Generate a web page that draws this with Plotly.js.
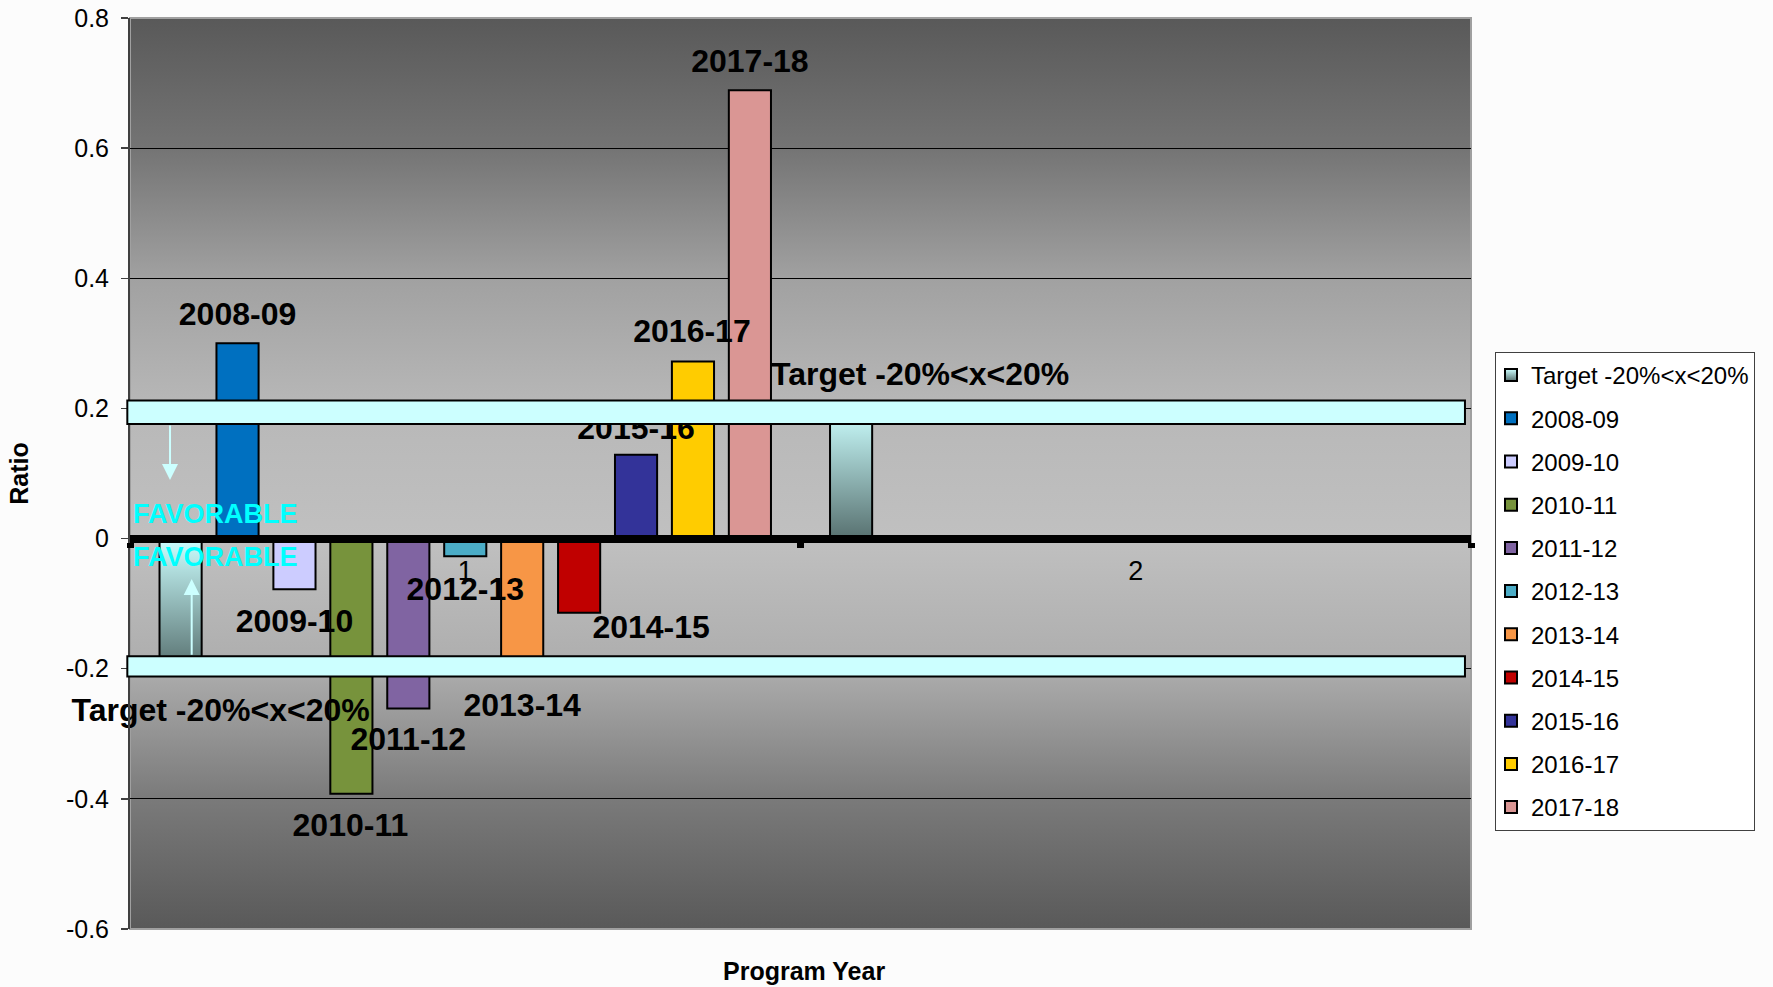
<!DOCTYPE html>
<html>
<head>
<meta charset="utf-8">
<script src="https://cdn.plot.ly/plotly-3.0.1.min.js"></script>
<style>
  html, body { margin: 0; padding: 0; background: #fcfcfc; }
  #chart { width: 1773px; height: 987px; }
</style>
</head>
<body>
<svg width="0" height="0" style="position:absolute">
  <defs>
    <linearGradient id="targetGrad" x1="0" y1="0" x2="0" y2="1">
      <stop offset="0" stop-color="#ccffff"/>
      <stop offset="1" stop-color="#587170"/>
    </linearGradient>
  </defs>
</svg>
<div id="chart"></div>
<script>
// ---------------- data ----------------
const categories = ['1', '2'];
const seriesNames = ['Target -20%<x<20%', '2008-09', '2009-10', '2010-11', '2011-12',
  '2012-13', '2013-14', '2014-15', '2015-16', '2016-17', '2017-18'];
const target   = [-0.20, 0.20];
const py200809 = [0.300, null];
const py200910 = [-0.078, null];
const py201011 = [-0.392, null];
const py201112 = [-0.261, null];
const py201213 = [-0.027, null];
const py201314 = [-0.190, null];
const py201415 = [-0.114, null];
const py201516 = [0.129, null];
const py201617 = [0.272, null];
const py201718 = [0.689, null];
const seriesValues = [target, py200809, py200910, py201011, py201112, py201213,
  py201314, py201415, py201516, py201617, py201718];
const targetBands = [[0.176, 0.212], [-0.212, -0.181]];
const yTicks = [-0.6, -0.4, -0.2, 0, 0.2, 0.4, 0.6, 0.8];
const yTickLabels = ['-0.6', '-0.4', '-0.2', '0', '0.2', '0.4', '0.6', '0.8'];

// ---------------- style ----------------
const seriesColors = ['#9cc4c3', '#0070c0', '#ccccff', '#77933c', '#8064a2', '#4bacc6',
  '#f79646', '#c00000', '#333399', '#ffcc00', '#da9694'];
// label offsets in pixels: [series, category, dx, dy(up)]
const labelOffsets = [
  [0, 0, 40, -44], [1, 0, 0, 26], [2, 0, 0, -35], [3, 0, -1, -34], [4, 0, 0, -34],
  [5, 0, 0, -36], [6, 0, 0, -46], [7, 0, 72, -17], [8, 0, 0, 24], [9, 0, -1, 28],
  [10, 0, 0, 26], [0, 1, 69, 31]
];

const W = 1773, H = 987;
const M = { l: 130, r: 302, t: 18, b: 58 };
const yMin = -0.6, yMax = 0.8;
const bargap = 0.066, bargroupgap = 0.26;
const plotW = W - M.l - M.r, plotH = H - M.t - M.b;
const pxPerX = plotW / 2, pxPerY = plotH / (yMax - yMin);
const nSeries = seriesNames.length;
const slot = (1 - bargap) / nSeries;
const barCenter = (i, c) => c - (1 - bargap) / 2 + (i + 0.5) * slot;

const FONT = 'Liberation Sans, Arial, Helvetica, sans-serif';

const data = seriesNames.map((name, i) => ({
  type: 'bar',
  name: name,
  x: categories,
  y: seriesValues[i],
  marker: { color: seriesColors[i], line: { color: '#000', width: 2 } },
  legendgroup: 'g' + i,
  hoverinfo: 'skip'
}));

// series-name labels (drawn in a trace layer so the target bands sit over them)
const lx = [], ly = [], lt = [];
labelOffsets.forEach(([s, c, dx, dy]) => {
  lx.push(barCenter(s, c) + dx / pxPerX);
  ly.push(seriesValues[s][c] + dy / pxPerY);
  lt.push(seriesNames[s]);
});
data.push({
  type: 'scatter', mode: 'text', xaxis: 'x2', yaxis: 'y',
  x: lx, y: ly, text: lt, textposition: 'middle center',
  textfont: { family: FONT, size: 32, color: '#000', weight: 'bold' },
  cliponaxis: false, showlegend: false, hoverinfo: 'skip'
});

const bgSvg = '<svg xmlns="http://www.w3.org/2000/svg" width="100" height="100" viewBox="0 0 100 100" preserveAspectRatio="none">' +
  '<defs><linearGradient id="g" x1="0" y1="0" x2="0" y2="1">' +
  '<stop offset="0" stop-color="#595959"/>' +
  '<stop offset="0.143" stop-color="#747474"/>' +
  '<stop offset="0.286" stop-color="#a1a1a1"/>' +
  '<stop offset="0.429" stop-color="#b8b8b8"/>' +
  '<stop offset="0.571" stop-color="#c0c0c0"/>' +
  '<stop offset="0.714" stop-color="#adadad"/>' +
  '<stop offset="0.857" stop-color="#7a7a7a"/>' +
  '<stop offset="1" stop-color="#595959"/>' +
  '</linearGradient></defs><rect width="100" height="100" fill="url(#g)"/></svg>';

const shapes = [
  { type: 'rect', xref: 'paper', yref: 'paper', x0: 0, x1: 1, y0: 0, y1: 1,
    line: { color: '#a0a0a0', width: 2 }, layer: 'below' }
];
targetBands.forEach(b => shapes.push({
  type: 'rect', xref: 'paper', yref: 'y', x0: -0.002, x1: 0.9955, y0: b[0], y1: b[1],
  fillcolor: '#ccffff', line: { color: '#000', width: 2 }, layer: 'above'
}));

const annotations = [
  { text: 'FAVORABLE', xref: 'paper', yref: 'y', x: 0.0635, y: 0.038, showarrow: false,
    font: { family: FONT, size: 27, color: '#00ffff', weight: 'bold' }, xanchor: 'center', yanchor: 'middle' },
  { text: 'FAVORABLE', xref: 'paper', yref: 'y', x: 0.0635, y: -0.029, showarrow: false,
    font: { family: FONT, size: 27, color: '#00ffff', weight: 'bold' }, xanchor: 'center', yanchor: 'middle' },
  { text: '', xref: 'x2', yref: 'y', axref: 'x2', ayref: 'y', x: -0.4403, y: 0.09, ax: -0.4403, ay: 0.176,
    showarrow: true, arrowhead: 2, arrowsize: 1.6, arrowwidth: 2, arrowcolor: '#ccffff' },
  { text: '', xref: 'x2', yref: 'y', axref: 'x2', ayref: 'y', x: -0.408, y: -0.062, ax: -0.408, ay: -0.181,
    showarrow: true, arrowhead: 2, arrowsize: 1.6, arrowwidth: 2, arrowcolor: '#ccffff' },
  { text: 'Program Year', xref: 'paper', yref: 'paper', x: 0.5026, y: -0.046, showarrow: false,
    font: { family: FONT, size: 25, color: '#000', weight: 'bold' }, xanchor: 'center', yanchor: 'middle' }
];

const layout = {
  width: W, height: H,
  margin: { l: M.l, r: M.r, t: M.t, b: M.b, autoexpand: false },
  paper_bgcolor: '#fcfcfc',
  plot_bgcolor: 'rgba(0,0,0,0)',
  font: { family: FONT, color: '#000' },
  barmode: 'group', bargap: bargap, bargroupgap: bargroupgap,
  showlegend: true,
  xaxis: {
    type: 'category', range: [-0.5, 1.5], anchor: 'free',
    position: (0 - yMin) / (yMax - yMin),
    showline: true, linecolor: '#000', linewidth: 8,
    ticks: 'outside', tickson: 'boundaries', ticklen: 5, tickwidth: 7, tickcolor: '#000',
    tickfont: { family: FONT, size: 27, color: '#000' }, ticklabelstandoff: 5,
    showgrid: false, zeroline: false, automargin: false, fixedrange: true
  },
  xaxis2: { overlaying: 'x', range: [-0.5, 1.5], visible: false, anchor: 'y', fixedrange: true },
  yaxis: {
    range: [yMin, yMax], tickmode: 'array', tickvals: yTicks, ticktext: yTickLabels,
    ticks: 'outside', ticklen: 7, tickwidth: 1.5, tickcolor: '#404040',
    showline: true, linecolor: '#404040', linewidth: 2,
    showgrid: true, gridcolor: '#000', gridwidth: 1, zeroline: false,
    tickfont: { family: FONT, size: 25, color: '#000' }, ticklabelstandoff: 7,
    title: { text: 'Ratio', font: { family: FONT, size: 25, color: '#000', weight: 'bold' }, standoff: 30 },
    automargin: false, fixedrange: true
  },
  legend: {
    xref: 'container', yref: 'container', x: 1495 / W, y: 1 - 352 / H,
    xanchor: 'left', yanchor: 'top',
    bgcolor: '#ffffff', bordercolor: '#404040', borderwidth: 1,
    font: { family: FONT, size: 24, color: '#000' },
    traceorder: 'grouped', tracegroupgap: 9, itemwidth: 30, indentation: -5
  },
  shapes: shapes,
  annotations: annotations,
  images: [{
    source: 'data:image/svg+xml;charset=utf-8,' + encodeURIComponent(bgSvg),
    xref: 'paper', yref: 'paper', x: 0, y: 1, sizex: 1, sizey: 1,
    sizing: 'stretch', xanchor: 'left', yanchor: 'top', layer: 'below'
  }]
};

Plotly.newPlot('chart', data, layout, { staticPlot: true, displayModeBar: false }).then(gd => {
  const barTraces = gd.querySelectorAll('.barlayer .trace');
  if (barTraces[0]) barTraces[0].querySelectorAll('path').forEach(p => { p.style.fill = 'url(#targetGrad)'; });
  const legTraces = gd.querySelectorAll('.legend .traces');
  if (legTraces[0]) legTraces[0].querySelectorAll('.legendpoints path').forEach(p => { p.style.fill = 'url(#targetGrad)'; });
});
</script>
</body>
</html>
